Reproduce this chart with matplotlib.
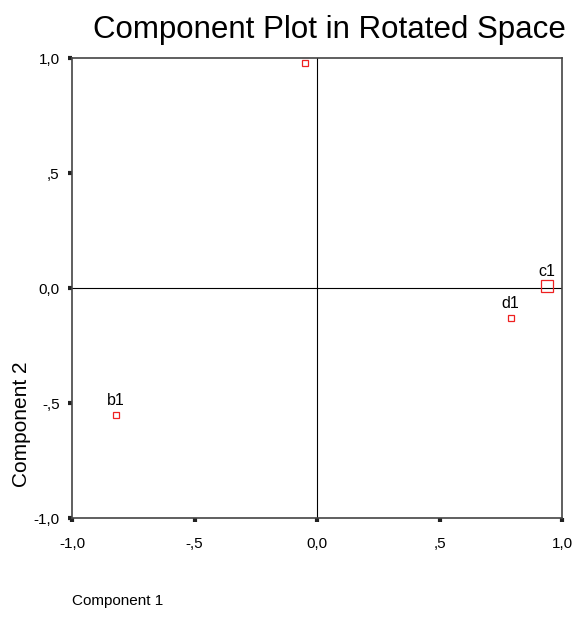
import matplotlib
matplotlib.use("Agg")
import matplotlib.pyplot as plt

plt.rcParams['font.family'] = ['Liberation Sans', 'DejaVu Sans']

labels = ["", "b1", "c1", "d1"]
comp1 = [-0.05, -0.82, 0.94, 0.79]
comp2 = [0.98, -0.55, 0.01, -0.13]
msizes = [5, 5, 8, 5]

ticks = [-1.0, -0.5, 0.0, 0.5, 1.0]
tick_labels = ["-1,0", "-,5", "0,0", ",5", "1,0"]

fig = plt.figure(figsize=(5.77, 6.18), dpi=100)
ax = fig.add_axes([0.1248, 0.1618, 0.8492, 0.7443])
ax.set_xlim(-1, 1)
ax.set_ylim(-1, 1)
ax.axhline(0, color='black', lw=0.8)
ax.axvline(0, color='black', lw=0.8)
for x, y, s, lab in zip(comp1, comp2, msizes, labels):
    ax.plot([x], [y], marker='s', ms=s, mfc='none', mec='#ee2020', mew=0.9, ls='none')
    if lab:
        ax.annotate(lab, (x, y), xytext=(0, 5), textcoords='offset points',
                    ha='center', va='bottom', fontsize=11.5)
ax.set_xticks(ticks)
ax.set_xticklabels(tick_labels, fontsize=11)
ax.set_yticks(ticks)
ax.set_yticklabels(tick_labels, fontsize=11)
ax.tick_params(direction='out', length=3, width=3, color='#222222', pad=6)
ax.tick_params(axis='x', pad=11)
for sp in ax.spines.values():
    sp.set_color('#444444')
    sp.set_linewidth(1.2)
fig.text(0.571, 0.951, "Component Plot in Rotated Space", ha='center', va='center', fontsize=22.5)
fig.text(0.1248, 0.028, "Component 1", ha='left', va='center', fontsize=11)
fig.text(0.038, 0.314, "Component 2", rotation=90, ha='center', va='center', fontsize=15)
fig.savefig("out.png", dpi=100)
